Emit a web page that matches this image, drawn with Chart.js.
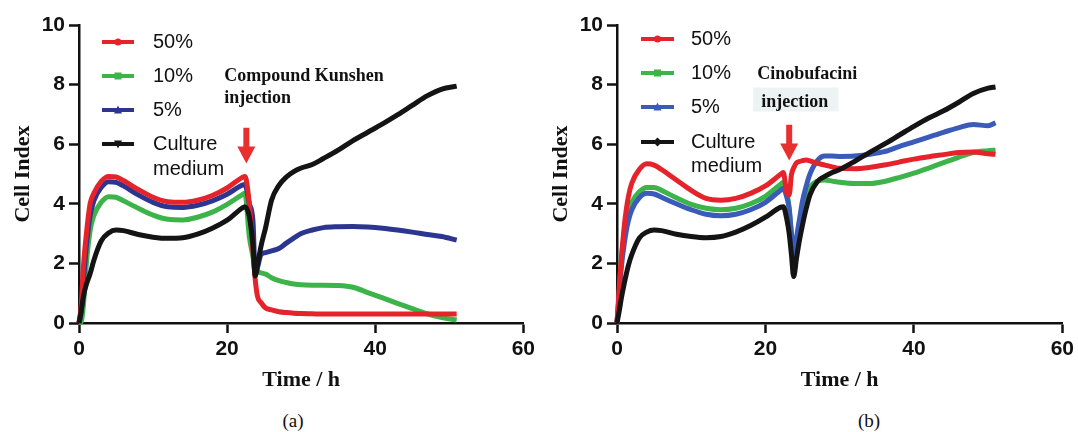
<!DOCTYPE html>
<html><head><meta charset="utf-8">
<script src="https://cdn.jsdelivr.net/npm/chart.js@4.4.1/dist/chart.umd.min.js"></script>
<style>
body{margin:0;background:#fff;width:1078px;height:432px;overflow:hidden;position:relative}
canvas{position:absolute;top:0}
#ca{left:0}
#cb{left:538px}
.cap{position:absolute;top:410px;font:19px 'Liberation Serif','Times New Roman',serif;width:60px;text-align:center;color:#111}
</style></head><body>
<canvas id="ca" width="539" height="400"></canvas>
<canvas id="cb" width="540" height="400"></canvas>
<div class="cap" style="left:263px">(a)</div>
<div class="cap" style="left:839px">(b)</div>
<script>
// ---------- data (Time / h , Cell Index) ----------
const seriesNames = ['50%', '10%', '5%', 'Culture medium'];
const xTicks = [0, 20, 40, 60];
const yTicks = [0, 2, 4, 6, 8, 10];

// (a) Compound Kunshen injection
const timeA = [0, 0.3, 0.6, 1, 1.5, 2, 3, 4, 5, 6, 8, 10, 12, 14, 16, 18, 20, 22, 22.4, 23, 23.5, 23.8, 24.1, 24.6, 25.2, 26, 27, 28, 29, 30, 31.5, 33, 35, 37, 39, 41, 43, 45, 47, 49, 51];
const a50 = [0, 0.6, 1.9, 3.0, 4.0, 4.35, 4.75, 4.92, 4.9, 4.78, 4.48, 4.22, 4.07, 4.05, 4.12, 4.28, 4.53, 4.88, 4.92, 4.0, 2.4, 1.45, 0.9, 0.68, 0.5, 0.44, 0.38, 0.35, 0.33, 0.32, 0.31, 0.3, 0.3, 0.3, 0.3, 0.3, 0.3, 0.3, 0.3, 0.3, 0.3];
const a10 = [0, 0.05, 0.6, 2.0, 3.1, 3.6, 4.05, 4.24, 4.22, 4.1, 3.85, 3.62, 3.48, 3.46, 3.55, 3.72, 3.98, 4.3, 4.35, 2.9, 2.2, 1.7, 1.72, 1.68, 1.64, 1.52, 1.42, 1.36, 1.31, 1.28, 1.27, 1.27, 1.26, 1.2, 1.02, 0.84, 0.66, 0.48, 0.31, 0.18, 0.1];
const a5 = [0, 0.4, 1.4, 2.6, 3.6, 4.1, 4.55, 4.74, 4.72, 4.6, 4.3, 4.05, 3.9, 3.88, 3.95, 4.1, 4.32, 4.62, 4.65, 4.0, 3.4, 1.6, 1.85, 2.3, 2.36, 2.42, 2.5, 2.68, 2.85, 3.0, 3.12, 3.2, 3.23, 3.24, 3.22, 3.18, 3.12, 3.05, 2.97, 2.9, 2.78];
const aMed = [0, 0.4, 0.9, 1.3, 1.65, 2.1, 2.75, 3.02, 3.12, 3.1, 2.97, 2.88, 2.84, 2.86, 2.98, 3.18, 3.45, 3.85, 3.9, 3.57, 2.6, 1.58, 1.95, 2.6, 3.2, 4.12, 4.62, 4.9, 5.08, 5.2, 5.32, 5.52, 5.8, 6.12, 6.4, 6.68, 6.98, 7.3, 7.62, 7.85, 7.95];

// (b) Cinobufacini injection
const timeB = [0, 0.3, 0.6, 1, 1.5, 2, 3, 4, 5, 6, 8, 10, 12, 14, 16, 18, 20, 22, 22.4, 22.9, 23.2, 23.5, 23.8, 24.2, 24.6, 25, 25.5, 26, 27, 28, 29, 30, 32, 34, 36, 38, 40, 42, 44, 46, 48, 50, 51];
const b50 = [0, 1.2, 2.2, 3.3, 4.2, 4.7, 5.15, 5.34, 5.3, 5.15, 4.8, 4.45, 4.18, 4.12, 4.18, 4.35, 4.6, 4.98, 5.05, 4.35, 4.3, 4.97, 5.2, 5.38, 5.42, 5.45, 5.47, 5.44, 5.36, 5.3, 5.24, 5.19, 5.18, 5.22, 5.3, 5.4, 5.5, 5.58, 5.65, 5.72, 5.74, 5.68, 5.66];
const b10 = [0, 1.0, 2.2, 3.0, 3.7, 4.05, 4.4, 4.55, 4.55, 4.45, 4.2, 3.98, 3.85, 3.8, 3.85, 4.0, 4.25, 4.65, 4.72, 4.4, 3.8, 3.0, 2.3, 2.6, 3.2, 3.75, 4.2, 4.55, 4.76, 4.8, 4.76, 4.72, 4.68, 4.68, 4.75, 4.88, 5.03, 5.2, 5.38, 5.56, 5.72, 5.78, 5.8];
const b5 = [0, 0.9, 1.9, 2.7, 3.4, 3.8, 4.2, 4.35, 4.33, 4.22, 4.0, 3.8, 3.65, 3.6, 3.65, 3.8, 4.05, 4.45, 4.52, 4.2, 3.85, 3.0, 2.22, 2.9, 3.5, 4.1, 4.6, 5.0, 5.45, 5.6, 5.6, 5.59, 5.6, 5.66, 5.75, 5.92, 6.08, 6.24, 6.4, 6.55, 6.66, 6.62, 6.72];
const bMed = [0, 0.4, 0.85, 1.35, 1.9, 2.3, 2.85, 3.05, 3.12, 3.1, 2.98, 2.9, 2.86, 2.9, 3.05, 3.27, 3.55, 3.88, 3.9, 3.46, 3.0, 2.3, 1.56, 2.2, 2.8, 3.3, 3.85, 4.3, 4.75, 4.92, 5.05, 5.15, 5.42, 5.72, 6.0, 6.3, 6.6, 6.88, 7.12, 7.4, 7.7, 7.88, 7.92];

// ---------- helpers ----------
const RED = '#e5232a', GREEN = '#3cb44a', BLACK = '#141414';
function pts(t, v) { return t.map((x, i) => ({ x: x, y: v[i] })); }
function ds(label, t, v, color) {
  return { label, data: pts(t, v), borderColor: color, backgroundColor: color,
    borderWidth: 5, pointRadius: 0, cubicInterpolationMode: 'monotone', clip: 6 };
}

function drawMarker(ctx, style, x, y, color) {
  ctx.save();
  ctx.fillStyle = color;
  ctx.beginPath();
  const r = 3.5;
  if (style === 'circle') { ctx.arc(x, y, r, 0, Math.PI * 2); }
  else if (style === 'square') { ctx.rect(x - r, y - r, 2 * r, 2 * r); }
  else if (style === 'triangle') { ctx.moveTo(x, y - r - 1); ctx.lineTo(x + r + 0.5, y + r); ctx.lineTo(x - r - 0.5, y + r); ctx.closePath(); }
  else if (style === 'tridown') { ctx.moveTo(x, y + r + 1); ctx.lineTo(x + r + 0.5, y - r); ctx.lineTo(x - r - 0.5, y - r); ctx.closePath(); }
  else if (style === 'diamond') { ctx.moveTo(x, y - r - 1); ctx.lineTo(x + r + 1, y); ctx.lineTo(x, y + r + 1); ctx.lineTo(x - r - 1, y); ctx.closePath(); }
  ctx.fill();
  ctx.restore();
}

const overlayPlugin = {
  id: 'overlay',
  afterDatasetsDraw(chart, args, o) {
    const ctx = chart.ctx;
    const xs = chart.scales.x, ys = chart.scales.y;
    // legend
    ctx.save();
    o.legend.forEach((it, i) => {
      const y = o.legendRows[i];
      ctx.strokeStyle = it.color; ctx.lineWidth = 4;
      ctx.beginPath(); ctx.moveTo(o.legendX0, y); ctx.lineTo(o.legendX1, y); ctx.stroke();
      drawMarker(ctx, it.marker, (o.legendX0 + o.legendX1) / 2, y, it.color);
      ctx.fillStyle = '#111';
      ctx.font = "20px 'Liberation Sans', Arial, sans-serif";
      ctx.textBaseline = 'middle'; ctx.textAlign = 'left';
      it.text.forEach((line, k) => ctx.fillText(line, o.legendTextX, y + k * o.lineGap));
    });
    // annotation text
    const tx = xs.getPixelForValue(o.textX);
    if (o.boxFill) {
      ctx.fillStyle = o.boxFill;
      ctx.fillRect(tx - 4, ys.getPixelForValue(o.textY2) - 15, 85, 24);
    }
    ctx.fillStyle = '#111';
    ctx.font = "bold 18px 'Liberation Serif', 'Times New Roman', serif";
    ctx.textBaseline = 'middle'; ctx.textAlign = 'left';
    ctx.fillText(o.text1, tx, ys.getPixelForValue(o.textY1));
    ctx.fillText(o.text2, tx + (o.boxFill ? 4 : 0), ys.getPixelForValue(o.textY2));
    // arrow
    const ax = xs.getPixelForValue(o.arrowX);
    const top = ys.getPixelForValue(o.arrowTop), tip = ys.getPixelForValue(o.arrowTip);
    const headH = 17, headW = 9, shaftW = 3;
    ctx.fillStyle = '#e8302e';
    ctx.beginPath();
    ctx.moveTo(ax - shaftW, top); ctx.lineTo(ax + shaftW, top);
    ctx.lineTo(ax + shaftW, tip - headH); ctx.lineTo(ax + headW, tip - headH);
    ctx.lineTo(ax, tip); ctx.lineTo(ax - headW, tip - headH);
    ctx.lineTo(ax - shaftW, tip - headH); ctx.closePath(); ctx.fill();
    ctx.restore();
  }
};

function makeChart(id, t, s50, s10, s5, sMed, blue, medMarker, ov) {
  const tickFont = { family: "'Liberation Sans', Arial, sans-serif", size: 21, weight: 'bold' };
  const titleFont = { family: "'Liberation Serif', 'Times New Roman', serif", size: 22, weight: 'bold' };
  ov.legend = [
    { text: [seriesNames[0]], color: RED, marker: 'circle' },
    { text: [seriesNames[1]], color: GREEN, marker: 'square' },
    { text: [seriesNames[2]], color: blue, marker: 'triangle' },
    { text: ['Culture', 'medium'], color: BLACK, marker: medMarker }
  ];
  return new Chart(document.getElementById(id), {
    type: 'line',
    data: { datasets: [
      ds(seriesNames[3], t, sMed, BLACK),
      ds(seriesNames[0], t, s50, RED),
      ds(seriesNames[2], t, s5, blue),
      ds(seriesNames[1], t, s10, GREEN)
    ] },
    options: {
      responsive: false, animation: false, devicePixelRatio: 1,
      layout: { padding: { top: 25, right: 12, left: 0, bottom: 0 } },
      plugins: { legend: { display: false }, tooltip: { enabled: false }, overlay: ov },
      scales: {
        x: {
          type: 'linear', min: 0, max: 60,
          afterBuildTicks: (s) => { s.ticks = xTicks.map(v => ({ value: v })); },
          afterFit: (s) => { s.height = 77; },
          grid: { drawOnChartArea: false, drawTicks: true, tickLength: 10, tickWidth: 2.5, tickColor: '#111' },
          border: { display: true, width: 2.5, color: '#111' },
          ticks: { font: tickFont, color: '#111', padding: 4, maxRotation: 0 },
          title: { display: true, text: 'Time / h', font: titleFont, color: '#111', padding: { top: 0, bottom: 6 } }
        },
        y: {
          min: 0, max: 10,
          afterBuildTicks: (s) => { s.ticks = yTicks.map(v => ({ value: v })); },
          afterFit: (s) => { s.width = 79; },
          grid: { drawOnChartArea: false, drawTicks: true, tickLength: 10, tickWidth: 2.5, tickColor: '#111' },
          border: { display: true, width: 2.5, color: '#111' },
          ticks: { font: tickFont, color: '#111', padding: 4 },
          title: { display: true, text: 'Cell Index', font: titleFont, color: '#111', padding: { top: 10, bottom: 0 } }
        }
      }
    },
    plugins: [overlayPlugin]
  });
}

makeChart('ca', timeA, a50, a10, a5, aMed, '#2c3590', 'tridown', {
  legendX0: 102, legendX1: 134, legendTextX: 153, legendRows: [42, 76, 110, 144], lineGap: 25,
  text1: 'Compound Kunshen', text2: 'injection', textX: 19.6, textY1: 8.29, textY2: 7.55,
  arrowX: 22.6, arrowTop: 6.55, arrowTip: 5.35
});
makeChart('cb', timeB, b50, b10, b5, bMed, '#3a5cb8', 'diamond', {
  legendX0: 103, legendX1: 136, legendTextX: 153, legendRows: [39, 73, 107, 142], lineGap: 24,
  text1: 'Cinobufacini', text2: 'injection', textX: 18.9, textY1: 8.36, textY2: 7.4,
  boxFill: '#edf2f3',
  arrowX: 23.2, arrowTop: 6.65, arrowTip: 5.45
});
</script>
</body></html>
